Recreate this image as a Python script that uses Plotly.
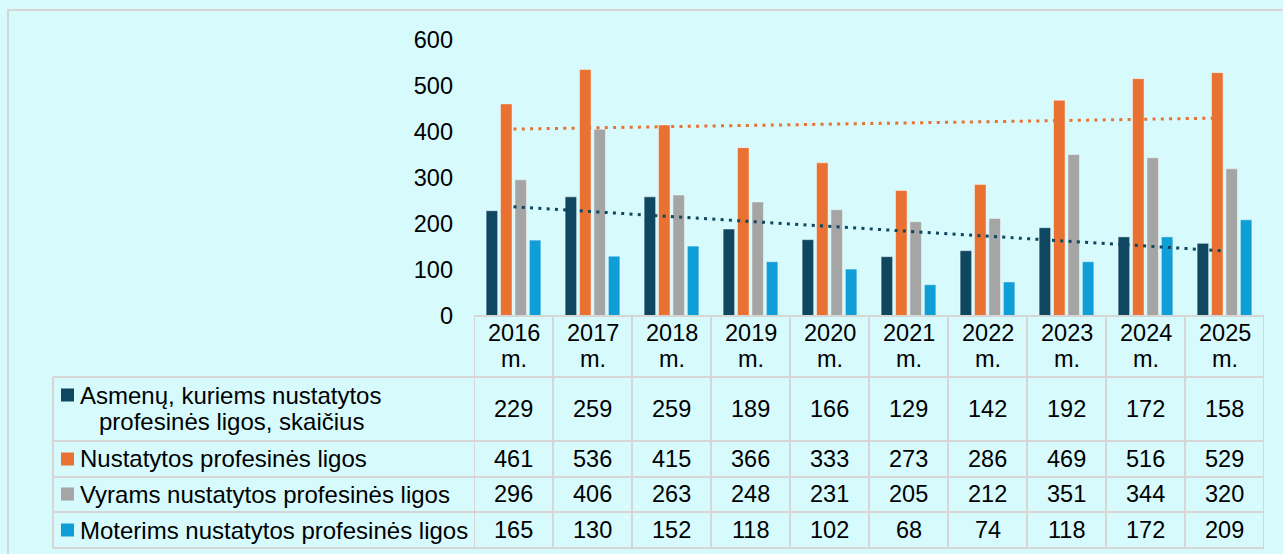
import numpy as np
import plotly.graph_objects as go

W, H = 1283, 554

years = ["2016", "2017", "2018", "2019", "2020", "2021", "2022", "2023", "2024", "2025"]
year_suffix = "m."

series_names = [
    "Asmenų, kuriems nustatytos profesinės ligos, skaičius",
    "Nustatytos profesinės ligos",
    "Vyrams nustatytos profesinės ligos",
    "Moterims nustatytos profesinės ligos",
]
asmenu = [229, 259, 259, 189, 166, 129, 142, 192, 172, 158]
nustatytos = [461, 536, 415, 366, 333, 273, 286, 469, 516, 529]
vyrams = [296, 406, 263, 248, 231, 205, 212, 351, 344, 320]
moterims = [165, 130, 152, 118, 102, 68, 74, 118, 172, 209]
all_values = [asmenu, nustatytos, vyrams, moterims]

colors = ["#0F4761", "#E97132", "#A5A5A5", "#0F9ED5"]
y_ticks = [0, 100, 200, 300, 400, 500, 600]

BG = "#D7FAFD"
GRID = "#D6D6D6"
FONT = "Liberation Sans, Arial, sans-serif"
FS = 23.5
FS_LEG = 24


def px(xp):
    return xp / W


def py(yp):
    return 1 - yp / H


# layout geometry (pixels)
plot_left, plot_right = 474, 1264
plot_top, plot_bottom = 40, 316
table_left = 53
row_lines = [316, 377, 441, 477, 512, 548]
row_centers = [409, 459, 494, 530]

idx = list(range(len(years)))

fig = go.Figure()

for name, vals, col in zip(series_names, all_values, colors):
    fig.add_trace(go.Bar(
        x=years, y=vals, name=name,
        marker=dict(color=col, line=dict(color="rgba(255,255,255,0.45)", width=1)),
        showlegend=False,
    ))

# linear trendlines for the first two series
ia = np.array(idx)
for vals, col in [(asmenu, colors[0]), (nustatytos, colors[1])]:
    k, b = np.polyfit(ia, vals, 1)
    fig.add_trace(go.Scatter(
        x=years, y=k * ia + b, mode="lines",
        line=dict(color=col, width=3, dash="3px,5.3px"),
        showlegend=False, hoverinfo="skip",
    ))

shapes = []
annotations = []

# outer border
shapes.append(dict(type="rect", xref="paper", yref="paper",
                   x0=px(8), x1=1.02, y0=-0.02, y1=py(10),
                   line=dict(color=GRID, width=2), layer="below"))

# table horizontal lines
for i, yl in enumerate(row_lines):
    x0 = plot_left if i == 0 else table_left
    shapes.append(dict(type="line", xref="paper", yref="paper",
                       x0=px(x0), x1=px(plot_right), y0=py(yl), y1=py(yl),
                       line=dict(color=GRID, width=2)))
# vertical lines at category boundaries
for j in range(len(years) + 1):
    shapes.append(dict(type="line", xref="x", yref="paper",
                       x0=j - 0.5, x1=j - 0.5, y0=py(row_lines[0]), y1=py(row_lines[-1]),
                       line=dict(color=GRID, width=2)))
# left edge of legend column
shapes.append(dict(type="line", xref="paper", yref="paper",
                   x0=px(table_left), x1=px(table_left), y0=py(row_lines[1]), y1=py(row_lines[-1]),
                   line=dict(color=GRID, width=2)))

# header labels
for i, yr in zip(idx, years):
    annotations.append(dict(xref="x", yref="paper", x=i, y=py(333), text=yr,
                            showarrow=False, xanchor="center", yanchor="middle",
                            font=dict(size=FS, color="black", family=FONT)))
    annotations.append(dict(xref="x", yref="paper", x=i, y=py(359), text=year_suffix,
                            showarrow=False, xanchor="center", yanchor="middle",
                            font=dict(size=FS, color="black", family=FONT)))

# table values
for vals, yc in zip(all_values, row_centers):
    for i, v in zip(idx, vals):
        annotations.append(dict(xref="x", yref="paper", x=i, y=py(yc), text=str(v),
                                showarrow=False, xanchor="center", yanchor="middle",
                                font=dict(size=FS, color="black", family=FONT)))

# legend column
legend_lines = [
    [("Asmenų, kuriems nustatytos", 78, 395), ("profesinės ligos, skaičius", 97, 422)],
    [(series_names[1], 78, 458)],
    [(series_names[2], 78, 494)],
    [(series_names[3], 78, 530)],
]
key_centers = [395, 459, 494, 530]
for lines, col, kc in zip(legend_lines, colors, key_centers):
    shapes.append(dict(type="rect", xref="paper", yref="paper",
                       x0=px(61), x1=px(74), y0=py(kc + 6.5), y1=py(kc - 6.5),
                       fillcolor=col, line=dict(width=0)))
    for txt, xl, yc in lines:
        annotations.append(dict(xref="paper", yref="paper", x=px(xl), y=py(yc), text=txt,
                                showarrow=False, xanchor="left", yanchor="middle",
                                font=dict(size=FS_LEG, color="black", family=FONT)))

fig.update_layout(
    template="none",
    width=W, height=H,
    margin=dict(l=0, r=0, t=0, b=0, pad=0),
    paper_bgcolor=BG, plot_bgcolor=BG,
    barmode="group", bargap=0.27, bargroupgap=0.2,
    font=dict(family=FONT, size=FS, color="black"),
    xaxis=dict(type="category", domain=[px(plot_left), px(plot_right)], showticklabels=False,
               showgrid=False, zeroline=False, showline=False, ticks="",
               range=[-0.5, len(years) - 0.5], automargin=False),
    yaxis=dict(domain=[py(plot_bottom), py(plot_top)], range=[0, 600],
               tickvals=y_ticks, showgrid=False, zeroline=False, showline=False,
               ticks="", ticklabelstandoff=20, automargin=False,
               tickfont=dict(size=FS, color="black", family=FONT)),
    shapes=shapes, annotations=annotations,
)

fig.write_html("out.html",
               config={"displayModeBar": False},
               post_script="document.body.style.margin='0';document.body.style.background='%s';" % BG)
